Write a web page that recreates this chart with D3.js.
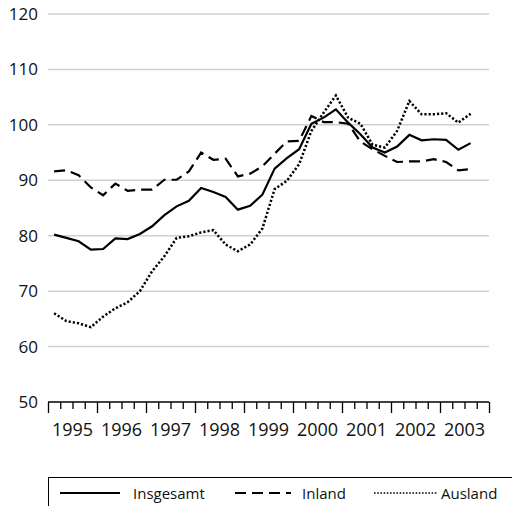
<!DOCTYPE html>
<html lang="de">
<head>
  <meta charset="UTF-8">
  <title>Insgesamt / Inland / Ausland</title>
  <script src="https://d3js.org/d3.v7.min.js"></script>
  <style>
    body {
      margin: 0;
      padding: 0;
      background: #fff;
      font-family: "Open Sans", sans-serif;
    }
    .grid line {
      stroke: #cfcfcf;
      stroke-width: 1.5;
    }
  </style>
</head>
<body>
  <svg id="chart"></svg>

  <script>
    // Quarterly data, 1995 Q1 to 2003 Q3
    const years = [1995, 1996, 1997, 1998, 1999, 2000, 2001, 2002, 2003];
    const yTicks = [50, 60, 70, 80, 90, 100, 110, 120];

    const insgesamt = [80.2, 79.6, 79.0, 77.5, 77.6, 79.5, 79.4, 80.3, 81.7, 83.7,
                       85.3, 86.3, 88.6, 87.9, 87.0, 84.7, 85.4, 87.4, 92.1, 94.0,
                       95.6, 100.2, 101.3, 102.8, 100.4, 98.3, 95.9, 95.0, 96.1, 98.2,
                       97.2, 97.4, 97.3, 95.5, 96.7];
    const inland = [91.6, 91.8, 90.9, 88.7, 87.3, 89.4, 88.1, 88.3, 88.3, 90.1,
                    90.1, 91.6, 95.0, 93.7, 93.9, 90.7, 91.2, 92.5, 94.8, 97.0,
                    97.1, 101.6, 100.5, 100.5, 100.2, 97.0, 95.6, 94.4, 93.3, 93.4,
                    93.4, 93.8, 93.3, 91.8, 92.0];
    const ausland = [66.0, 64.6, 64.2, 63.5, 65.4, 66.9, 68.0, 70.0, 73.6, 76.3,
                     79.6, 79.9, 80.6, 81.0, 78.4, 77.2, 78.4, 81.3, 88.4, 89.9,
                     92.9, 98.9, 102.2, 105.3, 101.3, 100.2, 96.4, 95.9, 98.9, 104.3,
                     101.9, 101.9, 102.1, 100.4, 102.0];

    const seriesNames = ["Insgesamt", "Inland", "Ausland"];
    const seriesData = [insgesamt, inland, ausland];
    const dashes = [null, "11,6", "2.2,2"];
    const widths = [2.2, 2.2, 2.5];

    const width = 512, height = 506;
    const plotLeft = 48, plotRight = 489, plotTop = 14, plotBottom = 402;

    const svg = d3.select("#chart")
      .attr("width", width)
      .attr("height", height);

    const nQuarters = years.length * 4;
    const x = d3.scaleLinear().domain([0, nQuarters]).range([plotLeft, plotRight]);
    const y = d3.scaleLinear().domain([50, 120]).range([plotBottom, plotTop]);

    // gridlines
    svg.append("g")
      .attr("class", "grid")
      .selectAll("line")
      .data(yTicks.filter(d => d > 50))
      .enter()
      .append("line")
      .attr("x1", plotLeft)
      .attr("x2", plotRight)
      .attr("y1", d => y(d))
      .attr("y2", d => y(d));

    // y labels
    const yAxis = svg.append("g")
      .attr("transform", `translate(${plotLeft - 10},0)`)
      .call(d3.axisLeft(y).tickValues(yTicks).tickSize(0).tickPadding(0));
    yAxis.select(".domain").remove();
    yAxis.selectAll("text")
      .attr("font-family", "'Open Sans', sans-serif")
      .attr("font-size", 17)
      .attr("fill", "#111");

    // x axis with quarter ticks
    const xAxis = svg.append("g")
      .attr("transform", `translate(0,${plotBottom})`)
      .call(d3.axisBottom(x).tickValues(d3.range(0, nQuarters + 1)).tickSize(7).tickFormat(""));
    xAxis.select(".domain")
      .attr("d", `M${plotLeft},0H${plotRight}`)
      .attr("stroke", "#000")
      .attr("stroke-width", 1.5);
    xAxis.selectAll(".tick line")
      .attr("stroke", "#000")
      .attr("stroke-width", 1.3)
      .attr("y2", d => d % 4 === 0 ? 11 : 7);

    // year labels centred in each year
    svg.append("g")
      .selectAll("text")
      .data(years)
      .enter()
      .append("text")
      .attr("x", (d, i) => x(i * 4 + 2))
      .attr("y", 436)
      .attr("text-anchor", "middle")
      .attr("font-size", 18)
      .attr("fill", "#111")
      .text(d => d);

    // lines
    const line = d3.line()
      .x((d, i) => x(i + 0.5))
      .y(d => y(d));

    svg.append("g")
      .selectAll("path")
      .data(seriesData)
      .enter()
      .append("path")
      .attr("d", line)
      .attr("fill", "none")
      .attr("stroke", "#000")
      .attr("stroke-width", (d, i) => widths[i])
      .attr("stroke-dasharray", (d, i) => dashes[i]);

    // legend
    const legend = svg.append("g");
    legend.append("rect")
      .attr("x", 48.5)
      .attr("y", 477.5)
      .attr("width", 480)
      .attr("height", 60)
      .attr("fill", "none")
      .attr("stroke", "#000")
      .attr("stroke-width", 1);

    const legendItems = [
      { x1: 60, x2: 120, tx: 133 },
      { x1: 235, x2: 291, tx: 302 },
      { x1: 374, x2: 438, tx: 441 }
    ];

    legendItems.forEach((it, i) => {
      legend.append("line")
        .attr("x1", it.x1)
        .attr("x2", it.x2)
        .attr("y1", 493)
        .attr("y2", 493)
        .attr("stroke", "#000")
        .attr("stroke-width", i === 2 ? 1.6 : 2.2)
        .attr("stroke-dasharray", i === 2 ? "1.6,1.6" : dashes[i]);
      legend.append("text")
        .attr("x", it.tx)
        .attr("y", 499)
        .attr("font-size", 15)
        .attr("fill", "#111")
        .text(seriesNames[i]);
    });
  </script>
</body>
</html>
